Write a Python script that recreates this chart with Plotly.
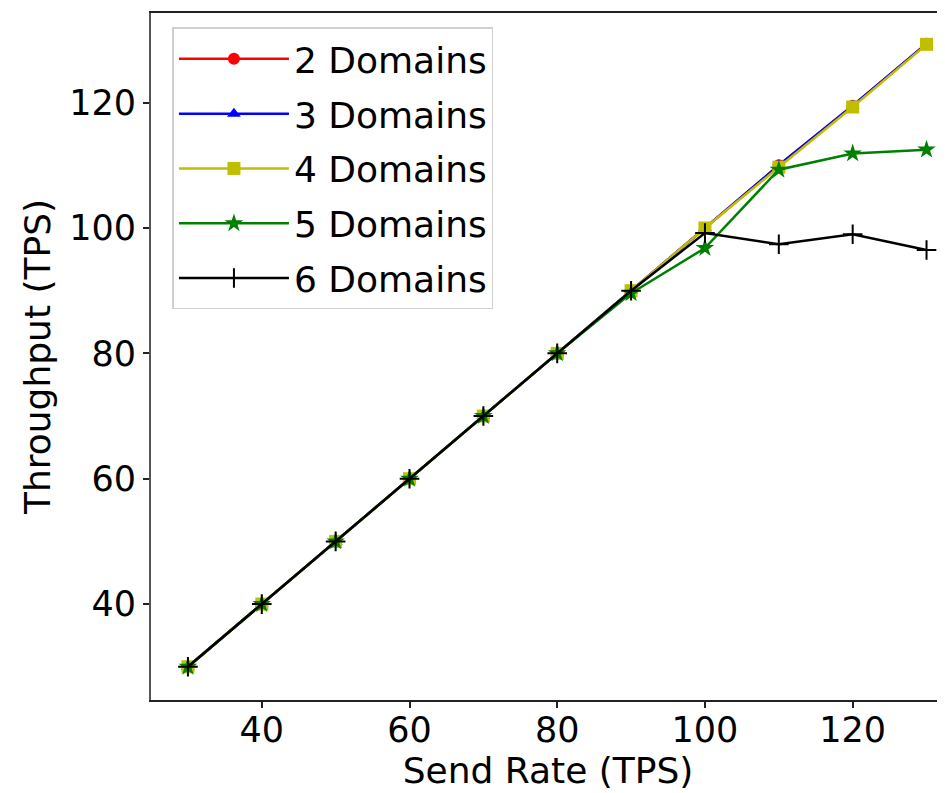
import plotly.graph_objects as go

send_rate = [30, 40, 50, 60, 70, 80, 90, 100, 110, 120, 130]
d2 = [30, 40, 50, 60, 70, 80, 90, 100, 110, 119.5, 129.4]
d3 = [30, 40, 50, 60, 70, 80, 90, 100, 110, 119.5, 129.4]
d4 = [30, 40, 50, 60, 70, 80, 90, 100, 109.7, 119.3, 129.3]
d5 = [30, 40, 50, 60, 70, 80, 89.6, 96.8, 109.3, 111.9, 112.5]
d6 = [30, 40, 50, 60, 70, 80, 90, 99.2, 97.4, 99.0, 96.5]

names = ["2 Domains", "3 Domains", "4 Domains", "5 Domains", "6 Domains"]
series = [d2, d3, d4, d5, d6]
colors = ["#ff0000", "#0000ff", "#bfbf00", "#008000", "#000000"]
symbols = ["circle", "triangle-up", "square", "star", "cross-thin"]
sizes = [12, 12, 13, 14, 14]

FONT = "DejaVu Sans"

fig = go.Figure()
for name, ys, c, s, sz in zip(names, series, colors, symbols, sizes):
    fig.add_trace(go.Scatter(
        x=send_rate, y=ys, name=name, mode="lines+markers",
        legendgroup=name,
        line=dict(color=c, width=2.5),
        marker=dict(symbol=s, size=sz, color=c,
                    line=dict(color=c, width=2 if s == "cross-thin" else 0)),
    ))

fig.update_layout(
    width=945, height=793,
    margin=dict(l=143, r=8, t=3, b=101),
    paper_bgcolor="white", plot_bgcolor="white",
    font=dict(family=FONT, size=35, color="black"),
    showlegend=True,
    legend=dict(
        x=0.027, y=0.979, xanchor="left", yanchor="top",
        bgcolor="rgba(255,255,255,0.8)", bordercolor="#d0d0d0", borderwidth=1.5,
        font=dict(family=FONT, size=36, color="black"),
        itemwidth=110, tracegroupgap=5,
    ),
    xaxis=dict(
        range=[25, 132.5], tickvals=[40, 60, 80, 100, 120],
        showgrid=False, zeroline=False,
        showline=True, linecolor="#222", linewidth=2, mirror=True,
        ticks="outside", ticklen=6, tickwidth=1.5, tickcolor="#222",
        tickfont=dict(size=35), ticklabelstandoff=-8,
        title=dict(text="Send Rate (TPS)", font=dict(size=36), standoff=6),
    ),
    yaxis=dict(
        range=[24.7, 134.3], tickvals=[40, 60, 80, 100, 120],
        showgrid=False, zeroline=False,
        showline=True, linecolor="#555", linewidth=2,
        ticks="outside", ticklen=6, tickwidth=1.5, tickcolor="#222",
        tickfont=dict(size=35),
        title=dict(text="Throughput (TPS)", font=dict(size=36), standoff=8),
    ),
)

fig.write_html("out.html")
